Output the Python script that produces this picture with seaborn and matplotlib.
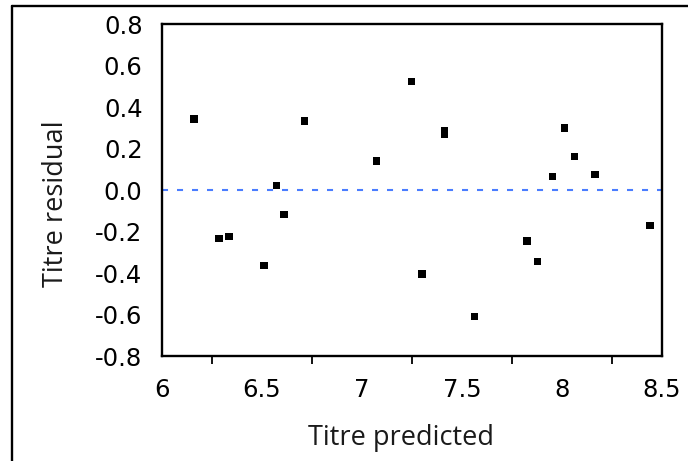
import matplotlib
matplotlib.use("Agg")
import matplotlib.pyplot as plt
from matplotlib.lines import Line2D
from matplotlib.ticker import MultipleLocator
import numpy as np
import pandas as pd
import seaborn as sns

# Residuals of titre against the model's predicted titre
titre_predicted = [6.16, 6.285, 6.335, 6.51, 6.573, 6.61, 6.712, 7.073, 7.248,
                   7.30, 7.413, 7.413, 7.562, 7.825, 7.877, 7.952, 8.012,
                   8.063, 8.165, 8.44]
titre_residual = [0.342, -0.235, -0.225, -0.363, 0.023, -0.117, 0.333, 0.140,
                  0.524, -0.405, 0.288, 0.268, -0.610, -0.246, -0.344, 0.064,
                  0.299, 0.161, 0.076, -0.170]

x_ticks = [6, 6.5, 7, 7.5, 8, 8.5]
x_tick_labels = ["6", "6.5", "7", "7.5", "8", "8.5"]
y_ticks = [-0.8, -0.6, -0.4, -0.2, 0.0, 0.2, 0.4, 0.6, 0.8]
y_tick_labels = ["-0.8", "-0.6", "-0.4", "-0.2", "0.0", "0.2", "0.4", "0.6", "0.8"]

df = pd.DataFrame({"Titre predicted": titre_predicted,
                   "Titre residual": titre_residual})

sns.set_theme(style="white")
plt.rcParams["font.family"] = ["DejaVu Sans"]

W, H = 688, 461
fig = plt.figure(figsize=(W / 100, H / 100), dpi=100)
ax = fig.add_axes([162 / W, 1 - 356 / H, 500 / W, 332 / H])

# zero reference line
ax.axhline(0, color="#4a7dff", lw=1.5, dashes=(2.9, 4.3), zorder=1)

sns.scatterplot(data=df, x="Titre predicted", y="Titre residual", ax=ax,
                marker="s", s=27, color="black", edgecolor="none",
                linewidth=0, zorder=3)

ax.set_xlim(6, 8.5)
ax.set_ylim(-0.8, 0.8)
ax.set_xticks(x_ticks)
ax.set_xticklabels(x_tick_labels)
ax.set_yticks(y_ticks)
ax.set_yticklabels(y_tick_labels)
ax.xaxis.set_minor_locator(MultipleLocator(0.25))

for side in ["left", "bottom", "top", "right"]:
    ax.spines[side].set_visible(True)
    ax.spines[side].set_color("black")
    ax.spines[side].set_linewidth(1.7)

ax.tick_params(axis="both", which="major", direction="out", length=10.5,
               width=1.3, color="black", labelsize=17.5, labelcolor="black",
               pad=3.5)
ax.tick_params(axis="x", which="minor", direction="out", length=6,
               width=1.3, color="black", bottom=True)
ax.tick_params(axis="x", which="major", pad=5)

label_font = dict(family=["Open Sans", "DejaVu Sans"], size=19.5, color="#1a1a1a")
ax.set_xlabel("Titre predicted", **label_font)
ax.set_ylabel("Titre residual", **label_font)
ax.xaxis.set_label_coords((401.5 - 162) / 500, (356 - 424) / 332)
ax.yaxis.set_label_coords((70 - 162) / 500, (356 - 204) / 332)

# outer frame around the panel
fy = 1 - 6 / H
fx = 11.7 / W
fig.add_artist(Line2D([fx, fx], [0, fy], transform=fig.transFigure,
                      color="black", lw=1.7))
fig.add_artist(Line2D([fx, 1], [fy, fy], transform=fig.transFigure,
                      color="black", lw=1.7))

fig.savefig("out.png", dpi=100, facecolor="white")
